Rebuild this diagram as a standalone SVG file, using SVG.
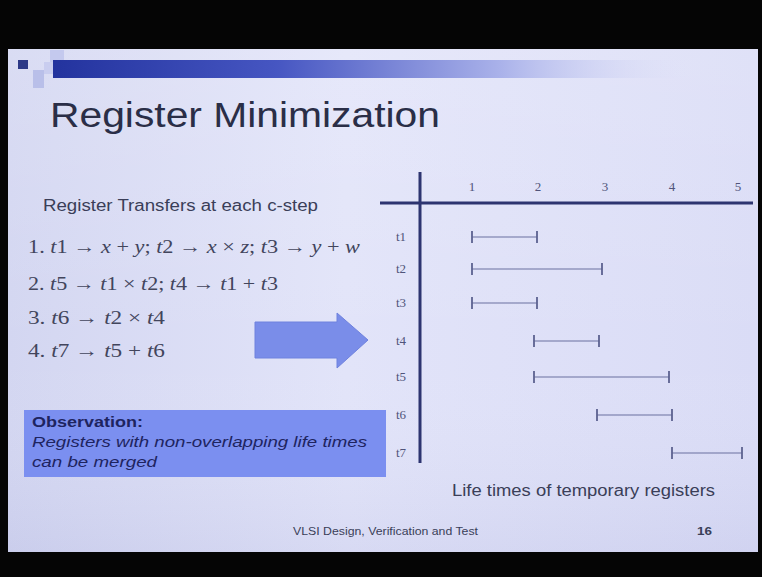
<svg xmlns="http://www.w3.org/2000/svg" width="762" height="577" viewBox="0 0 762 577">
<defs>
<linearGradient id="slideBg" x1="0" y1="0" x2="1" y2="0">
<stop offset="0" stop-color="#d3d6f1"/>
<stop offset="0.45" stop-color="#e2e4f9"/>
<stop offset="1" stop-color="#dadcf6"/>
</linearGradient>
<linearGradient id="shade" x1="0" y1="0" x2="0" y2="1">
<stop offset="0" stop-color="#ffffff" stop-opacity="0.15"/>
<stop offset="0.6" stop-color="#ffffff" stop-opacity="0"/>
<stop offset="1" stop-color="#8a8fc8" stop-opacity="0.12"/>
</linearGradient>
<linearGradient id="barGrad" x1="0" y1="0" x2="1" y2="0">
<stop offset="0" stop-color="#23339e"/>
<stop offset="0.35" stop-color="#4656c2"/>
<stop offset="0.7" stop-color="#aab2ea"/>
<stop offset="1" stop-color="#dfe2f8" stop-opacity="0"/>
</linearGradient>
<style>
.title{font-family:"Liberation Sans",Arial,sans-serif;font-size:35px;fill:#2a2e47}
.sans{font-family:"Liberation Sans",Arial,sans-serif;fill:#3a3e58}
.math{font-family:"Liberation Serif","Times New Roman",serif;font-size:19px;fill:#42455c}
.it{font-style:italic}
.obs{font-family:"Liberation Sans",Arial,sans-serif;font-size:14px;fill:#1e2460}
.axis{stroke:#2d3470;stroke-width:3;fill:none}
.life{stroke:#6a70a0;stroke-width:1.1;fill:none}
.tick{stroke:#5c6290;stroke-width:1.8;fill:none}
.lbl{font-family:"Liberation Serif","Times New Roman",serif;font-size:13px;fill:#50547a;text-anchor:middle}
</style>
</defs>
<rect x="0" y="0" width="762" height="577" fill="#050505"/>
<g id="slide">
<rect x="8" y="49" width="750" height="503" fill="url(#slideBg)"/>
<rect x="8" y="49" width="750" height="503" fill="url(#shade)"/>
</g>
<g id="header">
<rect x="50" y="50" width="14" height="12" fill="#c4c9ee"/>
<rect x="33" y="70" width="11" height="18" fill="#b9bfe9"/>
<rect x="44" y="62" width="10" height="12" fill="#c9cdef"/>
<rect x="18" y="60" width="10" height="9" fill="#2c3987"/>
<rect x="53" y="60" width="640" height="18" fill="url(#barGrad)"/>
</g>
<text id="title" class="title" x="50" y="127" textLength="390" lengthAdjust="spacingAndGlyphs">Register Minimization</text>
<g id="transfers">
<text class="sans" x="43" y="211" font-size="16" textLength="275" lengthAdjust="spacingAndGlyphs">Register Transfers at each c-step</text>
<text class="math" x="28" y="253" textLength="332" lengthAdjust="spacingAndGlyphs">1. <tspan class="it">t</tspan>1 → <tspan class="it">x</tspan> + <tspan class="it">y</tspan>; <tspan class="it">t</tspan>2 → <tspan class="it">x</tspan> × <tspan class="it">z</tspan>; <tspan class="it">t</tspan>3 → <tspan class="it">y</tspan> + <tspan class="it">w</tspan></text>
<text class="math" x="28" y="290" textLength="250" lengthAdjust="spacingAndGlyphs">2. <tspan class="it">t</tspan>5 → <tspan class="it">t</tspan>1 × <tspan class="it">t</tspan>2; <tspan class="it">t</tspan>4 → <tspan class="it">t</tspan>1 + <tspan class="it">t</tspan>3</text>
<text class="math" x="28" y="324" textLength="137" lengthAdjust="spacingAndGlyphs">3. <tspan class="it">t</tspan>6 → <tspan class="it">t</tspan>2 × <tspan class="it">t</tspan>4</text>
<text class="math" x="28" y="357" textLength="137" lengthAdjust="spacingAndGlyphs">4. <tspan class="it">t</tspan>7 → <tspan class="it">t</tspan>5 + <tspan class="it">t</tspan>6</text>
</g>
<g id="bigArrow">
<polygon points="255,322 337,322 337,313 368,340 337,368 337,358 255,358" fill="#7a8de9" stroke="#6f82de" stroke-width="1"/>
</g>
<g id="observation">
<rect x="24" y="410" width="362" height="67" fill="#7b8ff0"/>
<text class="obs" x="32" y="427" font-weight="bold" textLength="111" lengthAdjust="spacingAndGlyphs">Observation:</text>
<text class="obs" x="32" y="447" font-style="italic" textLength="335" lengthAdjust="spacingAndGlyphs">Registers with non-overlapping life times</text>
<text class="obs" x="32" y="467" font-style="italic" textLength="125" lengthAdjust="spacingAndGlyphs">can be merged</text>
</g>
<g id="chart">
<g id="axes">
<line class="axis" x1="420" y1="172" x2="420" y2="463"/>
<line class="axis" x1="380" y1="203" x2="753" y2="203"/>
</g>
<g id="steps">
<text class="lbl" x="472" y="191">1</text>
<text class="lbl" x="538" y="191">2</text>
<text class="lbl" x="605" y="191">3</text>
<text class="lbl" x="672" y="191">4</text>
<text class="lbl" x="738" y="191">5</text>
</g>
<g id="regs">
<text class="lbl" x="401" y="241" font-size="12">t1</text>
<text class="lbl" x="401" y="273" font-size="12">t2</text>
<text class="lbl" x="401" y="307" font-size="12">t3</text>
<text class="lbl" x="401" y="345" font-size="12">t4</text>
<text class="lbl" x="401" y="381" font-size="12">t5</text>
<text class="lbl" x="401" y="419" font-size="12">t6</text>
<text class="lbl" x="401" y="457" font-size="12">t7</text>
</g>
<g id="lifetimes">
<path class="life" d="M472 237H537M472 269H602M472 303H537M534 341H599M534 377H669M597 415H672M672 453H742"/>
<path class="tick" d="M472 231v12M537 231v12M472 263v12M602 263v12M472 297v12M537 297v12M534 335v12M599 335v12M534 371v12M669 371v12M597 409v12M672 409v12M672 447v12M742 447v12"/>
</g>
<text class="sans" x="452" y="496" font-size="16" textLength="263" lengthAdjust="spacingAndGlyphs">Life times of temporary registers</text>
</g>
<g id="footer">
<text class="sans" x="293" y="535" font-size="10.5" fill="#3b3f62" textLength="185" lengthAdjust="spacingAndGlyphs">VLSI Design, Verification and Test</text>
<text class="sans" x="697" y="535" font-size="11" font-weight="bold" textLength="15" lengthAdjust="spacingAndGlyphs">16</text>
</g>
</svg>
